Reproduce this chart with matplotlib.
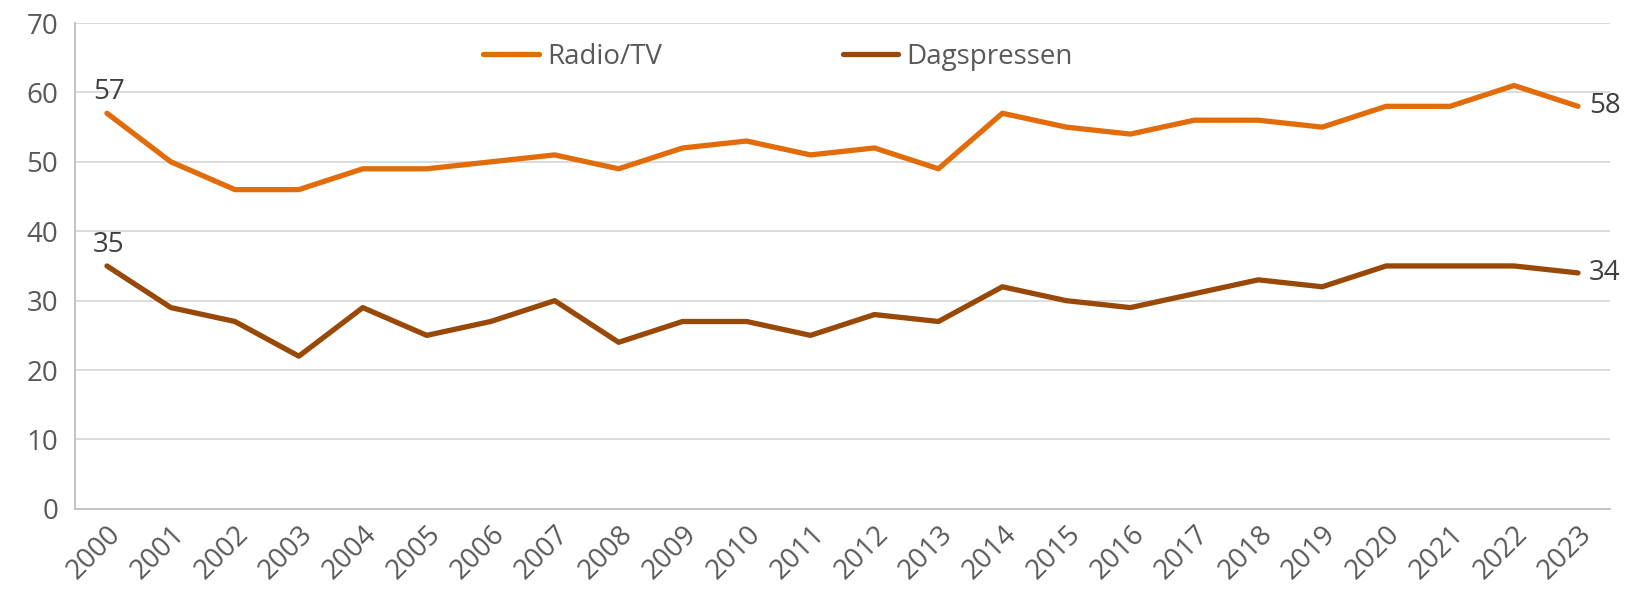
import matplotlib.pyplot as plt
import numpy as np

# data
years = [str(y) for y in range(2000, 2024)]
radio_tv = [57, 50, 46, 46, 49, 49, 50, 51, 49, 52, 53, 51, 52, 49,
            57, 55, 54, 56, 56, 55, 58, 58, 61, 58]
dagspressen = [35, 29, 27, 22, 29, 25, 27, 30, 24, 27, 27, 25, 28, 27,
               32, 30, 29, 31, 33, 32, 35, 35, 35, 34]
labels = ['Radio/TV', 'Dagspressen']
colors = ['#E36C0A', '#984807']

plt.rcParams['font.family'] = ['Open Sans', 'DejaVu Sans']
txt = '#595959'
fs = 20

fig = plt.figure(figsize=(16.37, 5.98), dpi=100)
ax = fig.add_axes([0.0458, 0.149, 0.9377, 0.8125])

x = np.arange(len(years))
ax.plot(x, radio_tv, color=colors[0], lw=3.8, label=labels[0], solid_capstyle='round')
ax.plot(x, dagspressen, color=colors[1], lw=3.8, label=labels[1], solid_capstyle='round')

# value labels at start and end
for s in (radio_tv, dagspressen):
    ax.annotate(str(s[0]), (x[0], s[0]), xytext=(-10, 5), textcoords='offset points',
                ha='left', va='bottom', fontsize=fs, color='#404040')
    ax.annotate(str(s[-1]), (x[-1], s[-1]), xytext=(8, 0), textcoords='offset points',
                ha='left', va='center', fontsize=fs, color='#404040')

ax.set_xlim(-0.5, len(years) - 0.5)
ax.set_ylim(0, 70)
ax.set_yticks(range(0, 71, 10))
ax.set_xticks(x)
ax.set_xticklabels(years, rotation=45, ha='right', rotation_mode='anchor')
ax.tick_params(axis='both', length=0, labelsize=fs, labelcolor=txt)
ax.tick_params(axis='x', pad=8)
ax.tick_params(axis='y', pad=12)
ax.grid(axis='y', color='#d9d9d9', lw=1.3)
ax.set_axisbelow(True)
for sp in ('top', 'right'):
    ax.spines[sp].set_visible(False)
for sp in ('left', 'bottom'):
    ax.spines[sp].set_color('#bfbfbf')
    ax.spines[sp].set_linewidth(1.3)

leg = ax.legend(loc='upper center', bbox_to_anchor=(0.458, 1.01), ncol=2, frameon=False,
                fontsize=fs, handlelength=2.0, columnspacing=6.5, handletextpad=0.3)
for t in leg.get_texts():
    t.set_color(txt)

fig.savefig('out.png', dpi=100)
